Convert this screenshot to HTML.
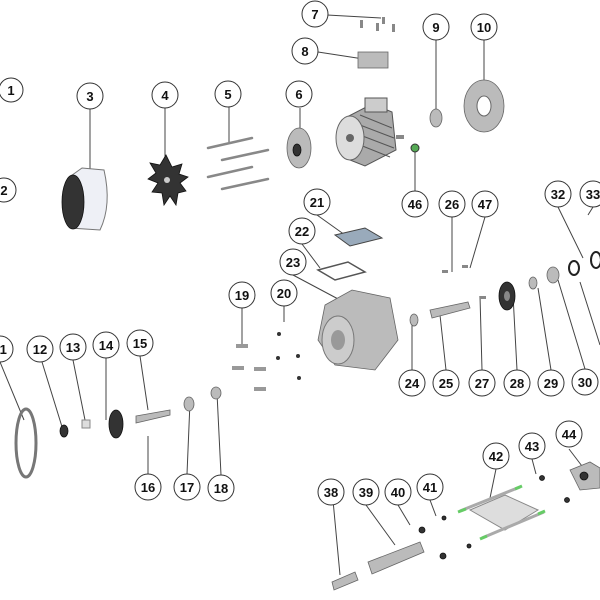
<!DOCTYPE html>
<html><head><meta charset="utf-8"><style>
html,body{margin:0;padding:0;background:#fff;width:600px;height:600px;overflow:hidden}
svg{display:block}
text{font-family:"Liberation Sans",sans-serif;font-weight:bold;font-size:13px;text-anchor:middle;fill:#111}
.c{fill:#fff;stroke:#333;stroke-width:1}
.l{stroke:#444;stroke-width:1;fill:none}
.g{fill:#bbb;stroke:#666;stroke-width:.8}
.d{fill:#333;stroke:#111;stroke-width:.8}
.r{stroke:#888;stroke-width:2.5;stroke-linecap:round}
</style></head><body>
<svg width="600" height="600" viewBox="0 0 600 600">
<path class="l" d="M90 109V182 M165 108V165 M229 107V142 M300 108V145 M327 15L381 18 M318 52L370 60 M436 40V115 M484 40V95 M415 191V152 M452 217V272 M485 217L470 268 M558 207L583 258 M593 207L588 215 M317 215L345 235 M302 244L320 268 M293 275L340 300 M242 308V345 M284 306V322 M0 362L24 420 M42 362L63 430 M73 360L85 420 M106 358V420 M140 356L148 410 M148 474V436 M187 474L190 402 M221 475L217 393 M412 370V320 M446 370L440 315 M482 370L480 296 M517 370L513 295 M551 370L538 288 M585 369L558 280 M600 345L580 282 M331 479L340 575 M366 505L395 545 M398 505L410 525 M430 500L436 516 M496 469L490 498 M532 459L536 474 M569 449L585 470"/>
<path d="M68 178 Q60 205 70 228 L100 230 Q112 205 104 170 L82 168 Z" fill="#eef0f6" stroke="#777"/>
<ellipse cx="73" cy="202" rx="11" ry="27" class="d"/>
<path class="d" d="M166 155 l-6 10 -10 -2 6 10 -8 6 10 4 -6 9 10 1 2 12 6 -9 6 9 2 -12 8 -2 -6 -8 8 -6 -9 -3 3 -10 -10 3z"/>
<circle cx="167" cy="180" r="3" fill="#ccc"/>
<line class="r" x1="208" y1="148" x2="252" y2="138"/><line class="r" x1="222" y1="160" x2="268" y2="150"/>
<line class="r" x1="208" y1="177" x2="252" y2="167"/><line class="r" x1="222" y1="189" x2="268" y2="179"/>
<ellipse cx="299" cy="148" rx="12" ry="20" class="g"/><ellipse cx="297" cy="150" rx="4" ry="6" class="d"/>
<path d="M345 118 L372 104 L392 112 L396 150 L365 166 L345 158 Z" fill="#aaa" stroke="#555"/>
<g stroke="#555" stroke-width="1"><line x1="360" y1="115" x2="392" y2="128"/><line x1="360" y1="125" x2="394" y2="138"/><line x1="360" y1="135" x2="394" y2="148"/><line x1="360" y1="145" x2="390" y2="157"/></g>
<rect x="365" y="98" width="22" height="14" fill="#ccc" stroke="#555"/>
<ellipse cx="350" cy="138" rx="14" ry="22" fill="#ddd" stroke="#666"/><circle cx="350" cy="138" r="4" fill="#666"/>
<rect x="396" y="135" width="8" height="4" fill="#888"/>
<rect x="358" y="52" width="30" height="16" class="g"/>
<g fill="#888"><rect x="360" y="20" width="3" height="8"/><rect x="376" y="23" width="3" height="8"/><rect x="392" y="24" width="3" height="8"/><rect x="382" y="17" width="3" height="7"/></g>
<ellipse cx="436" cy="118" rx="6" ry="9" class="g"/>
<ellipse cx="484" cy="106" rx="20" ry="26" class="g"/><ellipse cx="484" cy="106" rx="7" ry="10" fill="#fff" stroke="#666"/>
<circle cx="415" cy="148" r="4" fill="#5a5" stroke="#333"/>
<path d="M335 235 L365 228 L382 238 L350 246 Z" fill="#9ab" stroke="#444"/>
<path d="M318 270 L348 262 L365 272 L335 280 Z" fill="none" stroke="#555" stroke-width="1.5"/>
<path class="g" d="M325 305 L352 290 L390 298 L398 340 L375 370 L335 365 L318 340 Z"/>
<ellipse cx="338" cy="340" rx="16" ry="24" fill="#ccc" stroke="#777"/><ellipse cx="338" cy="340" rx="7" ry="10" fill="#999"/>
<g fill="#999"><rect x="236" y="344" width="12" height="4"/><rect x="232" y="366" width="12" height="4"/><rect x="254" y="367" width="12" height="4"/><rect x="254" y="387" width="12" height="4"/></g>
<g fill="#333"><circle cx="279" cy="334" r="2"/><circle cx="298" cy="356" r="2"/><circle cx="278" cy="358" r="2"/><circle cx="299" cy="378" r="2"/></g>
<ellipse cx="26" cy="443" rx="10" ry="34" fill="none" stroke="#777" stroke-width="3"/>
<ellipse cx="64" cy="431" rx="4" ry="6" class="d"/>
<rect x="82" y="420" width="8" height="8" fill="#ddd" stroke="#888"/>
<ellipse cx="116" cy="424" rx="7" ry="14" class="d"/>
<path class="g" d="M136 416 L170 410 L170 415 L136 423 Z"/>
<ellipse cx="189" cy="404" rx="5" ry="7" class="g"/><ellipse cx="216" cy="393" rx="5" ry="6" class="g"/>
<ellipse cx="414" cy="320" rx="4" ry="6" class="g"/>
<path class="g" d="M430 310 L468 302 L470 308 L432 318 Z"/>
<ellipse cx="507" cy="296" rx="8" ry="14" class="d"/><ellipse cx="507" cy="296" rx="3" ry="5" fill="#888"/>
<ellipse cx="533" cy="283" rx="4" ry="6" class="g"/><ellipse cx="553" cy="275" rx="6" ry="8" class="g"/>
<ellipse cx="574" cy="268" rx="5" ry="7" fill="none" stroke="#222" stroke-width="2"/>
<ellipse cx="596" cy="260" rx="5" ry="8" fill="none" stroke="#222" stroke-width="2"/>
<g fill="#888"><rect x="442" y="270" width="6" height="3"/><rect x="462" y="265" width="6" height="3"/><rect x="480" y="296" width="6" height="3"/></g>
<path class="g" d="M332 582 L355 572 L358 580 L334 590 Z"/>
<path class="g" d="M368 562 L420 542 L424 552 L372 574 Z"/>
<circle cx="422" cy="530" r="3" class="d"/><circle cx="444" cy="518" r="2" class="d"/>
<circle cx="443" cy="556" r="3" class="d"/><circle cx="469" cy="546" r="2" class="d"/>
<path d="M470 510 L505 495 L538 510 L505 530 Z" fill="#ddd" stroke="#888"/>
<line stroke="#aaa" stroke-width="3" x1="460" y1="511" x2="520" y2="487"/><line stroke="#aaa" stroke-width="3" x1="482" y1="538" x2="544" y2="512"/>
<line stroke="#6c6" stroke-width="3" x1="458" y1="512" x2="466" y2="509"/><line stroke="#6c6" stroke-width="3" x1="515" y1="489" x2="522" y2="486"/>
<line stroke="#6c6" stroke-width="3" x1="480" y1="539" x2="487" y2="536"/><line stroke="#6c6" stroke-width="3" x1="538" y1="514" x2="545" y2="511"/>
<circle cx="542" cy="478" r="2.5" class="d"/><circle cx="567" cy="500" r="2.5" class="d"/>
<path class="g" d="M570 470 L590 462 L600 468 L600 488 L580 490 Z"/><circle cx="584" cy="476" r="4" class="d"/>
<circle class="c" cx="11" cy="90" r="12"/><text x="11" y="95">1</text>
<circle class="c" cx="4" cy="190" r="12"/><text x="4" y="195">2</text>
<circle class="c" cx="90" cy="96" r="13"/><text x="90" y="101">3</text>
<circle class="c" cx="165" cy="95" r="13"/><text x="165" y="100">4</text>
<circle class="c" cx="228" cy="94" r="13"/><text x="228" y="99">5</text>
<circle class="c" cx="299" cy="94" r="13"/><text x="299" y="99">6</text>
<circle class="c" cx="315" cy="14" r="13"/><text x="315" y="19">7</text>
<circle class="c" cx="305" cy="51" r="13"/><text x="305" y="56">8</text>
<circle class="c" cx="436" cy="27" r="13"/><text x="436" y="32">9</text>
<circle class="c" cx="484" cy="27" r="13"/><text x="484" y="32">10</text>
<circle class="c" cx="0" cy="349" r="13"/><text x="0" y="354">11</text>
<circle class="c" cx="40" cy="349" r="13"/><text x="40" y="354">12</text>
<circle class="c" cx="73" cy="347" r="13"/><text x="73" y="352">13</text>
<circle class="c" cx="106" cy="345" r="13"/><text x="106" y="350">14</text>
<circle class="c" cx="140" cy="343" r="13"/><text x="140" y="348">15</text>
<circle class="c" cx="148" cy="487" r="13"/><text x="148" y="492">16</text>
<circle class="c" cx="187" cy="487" r="13"/><text x="187" y="492">17</text>
<circle class="c" cx="221" cy="488" r="13"/><text x="221" y="493">18</text>
<circle class="c" cx="242" cy="295" r="13"/><text x="242" y="300">19</text>
<circle class="c" cx="284" cy="293" r="13"/><text x="284" y="298">20</text>
<circle class="c" cx="317" cy="202" r="13"/><text x="317" y="207">21</text>
<circle class="c" cx="302" cy="231" r="13"/><text x="302" y="236">22</text>
<circle class="c" cx="293" cy="262" r="13"/><text x="293" y="267">23</text>
<circle class="c" cx="412" cy="383" r="13"/><text x="412" y="388">24</text>
<circle class="c" cx="446" cy="383" r="13"/><text x="446" y="388">25</text>
<circle class="c" cx="452" cy="204" r="13"/><text x="452" y="209">26</text>
<circle class="c" cx="482" cy="383" r="13"/><text x="482" y="388">27</text>
<circle class="c" cx="517" cy="383" r="13"/><text x="517" y="388">28</text>
<circle class="c" cx="551" cy="383" r="13"/><text x="551" y="388">29</text>
<circle class="c" cx="585" cy="382" r="13"/><text x="585" y="387">30</text>
<circle class="c" cx="558" cy="194" r="13"/><text x="558" y="199">32</text>
<circle class="c" cx="593" cy="194" r="13"/><text x="593" y="199">33</text>
<circle class="c" cx="331" cy="492" r="13"/><text x="331" y="497">38</text>
<circle class="c" cx="366" cy="492" r="13"/><text x="366" y="497">39</text>
<circle class="c" cx="398" cy="492" r="13"/><text x="398" y="497">40</text>
<circle class="c" cx="430" cy="487" r="13"/><text x="430" y="492">41</text>
<circle class="c" cx="496" cy="456" r="13"/><text x="496" y="461">42</text>
<circle class="c" cx="532" cy="446" r="13"/><text x="532" y="451">43</text>
<circle class="c" cx="569" cy="434" r="13"/><text x="569" y="439">44</text>
<circle class="c" cx="415" cy="204" r="13"/><text x="415" y="209">46</text>
<circle class="c" cx="485" cy="204" r="13"/><text x="485" y="209">47</text>
</svg>
</body></html>
